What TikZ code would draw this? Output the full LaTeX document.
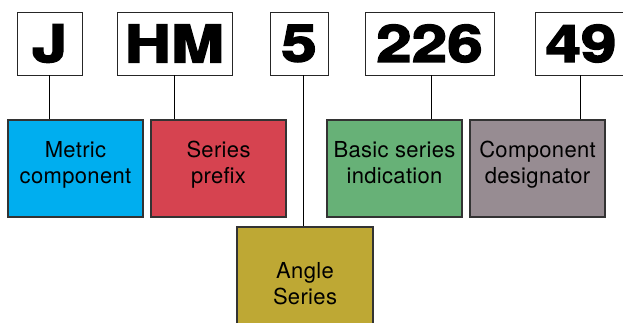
\documentclass[tikz,border=0pt]{standalone}
\usepackage{fontspec}
\setmainfont[LetterSpace=1.5]{TeX Gyre Heros}
\newfontfamily\codefont[BoldFeatures={FakeStretch=1.24,FakeBold=3}]{TeX Gyre Heros}
\usetikzlibrary{positioning, calc}

\definecolor{metriccol}{RGB}{0,174,239}
\definecolor{prefixcol}{RGB}{214,67,80}
\definecolor{basiccol}{RGB}{103,177,119}
\definecolor{designcol}{RGB}{151,140,146}
\definecolor{anglecol}{RGB}{190,168,52}

\tikzset{
    codebox/.style={draw=black!85, line width=0.8pt, inner sep=0pt,
        minimum height=63pt, font=\codefont\bfseries\fontsize{51.5}{52}\selectfont},
    partbox/.style={draw=black!80, line width=1.2pt, inner sep=0pt,
        minimum width=135pt, minimum height=97pt, align=center,
        text height=40pt, text depth=11pt,
        font=\fontsize{22}{26}\selectfont},
    link/.style={draw=black, line width=0.8pt}
}

\begin{document}
\begin{tikzpicture}[x=1pt, y=-1pt]
        \useasboundingbox (0,0) rectangle (623,323);
        \clip (0,0) rectangle (623,323);

        % Code letters
        \node[codebox, minimum width=65pt]  (j)    at (49.5,43.5)  {J};
        \node[codebox, minimum width=115pt] (hm)   at (174.5,43.5) {HM};
        \node[codebox, minimum width=58pt]  (five) at (299,43.5)   {5};
        \node[codebox, minimum width=129pt] (num)  at (429.5,43.5) {226};
        \node[codebox, minimum width=92pt]  (des)  at (581,43.5)   {49};

        % Meaning of each part
        \node[partbox, fill=metriccol] (metric) at (75.5,168.5)  {Metric\\component};
        \node[partbox, fill=prefixcol] (prefix) at (218.5,168.5) {Series\\prefix};
        \node[partbox, fill=basiccol]  (basic)  at (394.5,168.5) {Basic series\\indication};
        \node[partbox, fill=designcol] (design) at (537.5,168.5) {Component\\designator};
        \node[partbox, fill=anglecol, minimum width=136pt, minimum height=125pt]
            (angle) at (305,289.5) {Angle\\Series};

        % Connectors
        \draw[link] (j.south) -- (j.south |- metric.north);
        \draw[link] (hm.south) -- (hm.south |- prefix.north);
        \draw[link] ([xshift=4pt]five.south) -- ([xshift=4pt]five.south |- angle.north);
        \draw[link] ([xshift=1.5pt]num.south) -- ([xshift=1.5pt]num.south |- basic.north);
        \draw[link] ([xshift=-1pt]des.south) -- ([xshift=-1pt]des.south |- design.north);
    \end{tikzpicture}
\end{document}
